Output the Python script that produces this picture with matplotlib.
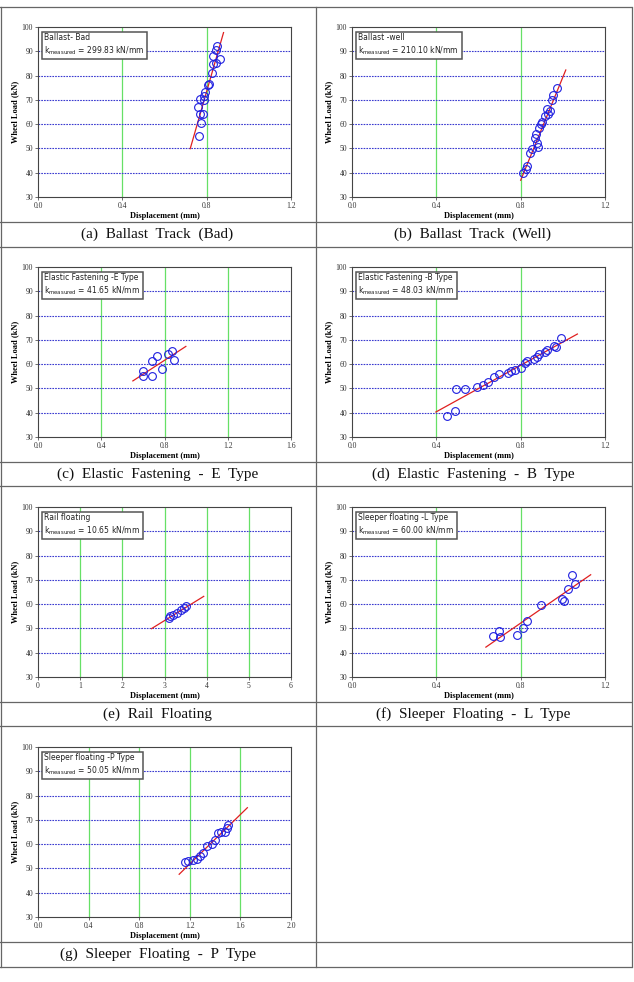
import matplotlib
matplotlib.use("Agg")
import matplotlib.pyplot as plt
from matplotlib.lines import Line2D

plt.rcParams['mathtext.default'] = 'regular'

W, H = 634, 982

# ---- data ----
a_x = [0.764, 0.774, 0.768, 0.782, 0.761, 0.769, 0.785, 0.788, 0.792, 0.804, 0.812,
       0.824, 0.832, 0.829, 0.864, 0.845, 0.851, 0.842]
a_y = [55.0, 60.6, 64.3, 64.3, 67.1, 70.2, 69.8, 71.6, 73.2, 76.0, 76.5,
       81.1, 84.9, 87.9, 87.0, 90.7, 92.0, 85.0]
a_fit_x = [0.722, 0.880]
a_fit_y = [49.9, 97.7]

b_x = [0.813, 0.829, 0.824, 0.842, 0.853, 0.884, 0.879, 0.869, 0.874, 0.889, 0.896,
       0.902, 0.916, 0.924, 0.940, 0.947, 0.955, 0.971, 0.932]
b_y = [39.7, 42.8, 41.7, 48.3, 49.9, 50.7, 52.4, 54.4, 55.8, 58.3, 59.9,
       61.0, 63.4, 66.1, 65.4, 69.8, 71.9, 75.0, 64.0]
b_fit_x = [0.800, 1.014]
b_fit_y = [36.9, 82.3]

c_x = [0.667, 0.667, 0.720, 0.720, 0.752, 0.787, 0.821, 0.846, 0.861]
c_y = [55.0, 57.2, 55.0, 61.2, 63.2, 58.1, 64.3, 65.4, 61.8]
c_fit_x = [0.600, 0.935]
c_fit_y = [53.1, 67.3]

d_x = [0.450, 0.490, 0.494, 0.534, 0.592, 0.619, 0.643, 0.674, 0.695, 0.742, 0.755,
       0.774, 0.801, 0.821, 0.832, 0.861, 0.876, 0.889, 0.916, 0.927, 0.958, 0.968, 0.990]
d_y = [38.5, 40.9, 49.6, 49.8, 50.5, 51.5, 52.8, 54.9, 56.0, 56.3, 57.1,
       57.6, 58.3, 60.5, 61.2, 62.1, 63.1, 64.2, 65.1, 65.8, 67.3, 66.9, 70.7]
d_fit_x = [0.398, 1.069]
d_fit_y = [40.3, 72.4]

e_x = [3.11, 3.21, 3.30, 3.40, 3.47, 3.51, 3.14]
e_y = [54.3, 55.4, 56.4, 57.4, 58.5, 59.1, 55.0]
e_fit_x = [2.69, 3.93]
e_fit_y = [49.9, 63.2]

f_x = [0.671, 0.698, 0.700, 0.782, 0.813, 0.832, 0.895, 0.995, 1.006, 1.023, 1.042, 1.058]
f_y = [47.0, 49.0, 46.4, 47.5, 50.0, 53.2, 59.7, 62.2, 61.4, 66.2, 71.8, 68.3]
f_fit_x = [0.635, 1.132]
f_fit_y = [42.3, 72.1]

g_x = [1.163, 1.189, 1.229, 1.255, 1.282, 1.308, 1.339, 1.374, 1.400, 1.426, 1.445,
       1.479, 1.492, 1.505]
g_y = [52.6, 52.9, 53.3, 54.0, 55.0, 56.4, 59.1, 59.9, 61.9, 64.7, 65.1,
       65.1, 66.5, 67.9]
g_fit_x = [1.116, 1.655]
g_fit_y = [47.6, 75.0]

names = ["Ballast- Bad", "Ballast -well", "Elastic Fastening -E Type",
         "Elastic Fastening -B Type", "Rail floating", "Sleeper floating -L Type",
         "Sleeper floating -P Type"]
k_values = ["299.83", "210.10", "41.65", "48.03", "10.65", "60.00", "50.05"]
captions = ["(a)  Ballast  Track  (Bad)", "(b)  Ballast  Track  (Well)",
            "(c)  Elastic  Fastening  -  E  Type", "(d)  Elastic  Fastening  -  B  Type",
            "(e)  Rail  Floating", "(f)  Sleeper  Floating  -  L  Type",
            "(g)  Sleeper  Floating  -  P  Type"]
x_ticks = [[0.0, 0.4, 0.8, 1.2], [0.0, 0.4, 0.8, 1.2], [0.0, 0.4, 0.8, 1.2, 1.6],
           [0.0, 0.4, 0.8, 1.2], [0, 1, 2, 3, 4, 5, 6], [0.0, 0.4, 0.8, 1.2],
           [0.0, 0.4, 0.8, 1.2, 1.6, 2.0]]
y_ticks = [30, 40, 50, 60, 70, 80, 90, 100]

xs = [a_x, b_x, c_x, d_x, e_x, f_x, g_x]
ys = [a_y, b_y, c_y, d_y, e_y, f_y, g_y]
fxs = [a_fit_x, b_fit_x, c_fit_x, d_fit_x, e_fit_x, f_fit_x, g_fit_x]
fys = [a_fit_y, b_fit_y, c_fit_y, d_fit_y, e_fit_y, f_fit_y, g_fit_y]

# ---- layout (pixels) ----
rows_top = [7, 247, 486, 726]
rows_mid = [222, 462, 702, 942]
rows_bot = [247, 486, 726, 967]
col_x = [0, 315, 631]
ax_left = [38, 352]
ax_w, ax_h = 253, 170

fig = plt.figure(figsize=(W / 100, H / 100), dpi=100)
serif = 'Liberation Serif'

for i in range(7):
    r, c = divmod(i, 2)
    bottom = rows_mid[r] - 25
    ax = fig.add_axes([ax_left[c] / W, 1 - bottom / H, ax_w / W, ax_h / H])
    xt = x_ticks[i]
    ax.set_xlim(xt[0], xt[-1])
    ax.set_ylim(30, 100)
    for v in xt[1:-1]:
        ax.axvline(v, color='#66e066', lw=0.9, zorder=1)
    for v in y_ticks[1:-1]:
        ax.axhline(v, color='#3a3ad0', lw=0.8, ls=(0, (1.5, 1)), zorder=1)
    ax.plot(fxs[i], fys[i], color='#e02020', lw=0.9, zorder=2)
    ax.plot(xs[i], ys[i], 'o', mfc='none', mec='#1f1fe0', ms=5.6, mew=0.8, zorder=3)
    ax.set_xticks(xt)
    if i == 4:
        ax.set_xticklabels([str(v) for v in xt])
    else:
        ax.set_xticklabels(['%.1f' % v for v in xt])
    ax.set_yticks(y_ticks)
    ax.set_yticklabels([str(v) for v in y_ticks])
    ax.tick_params(direction='out', length=2, width=0.6, labelsize=5.5,
                   color='#555555', labelcolor='#333333', pad=1.5)
    for lab in ax.get_xticklabels() + ax.get_yticklabels():
        lab.set_family(serif)
    for s in ax.spines.values():
        s.set_color('#444444')
        s.set_linewidth(0.8)
    ax.set_xlabel('Displacement (mm)', fontsize=6, family=serif, weight='bold', labelpad=1.5)
    ax.set_ylabel('Wheel Load (kN)', fontsize=6, family=serif, weight='bold', labelpad=2)
    ax.text(0.025, 0.965, names[i] + '\n' + 'k$_{measured}$ = ' + k_values[i] + ' kN/mm',
            transform=ax.transAxes, fontsize=5.5, family='DejaVu Sans', va='top', ha='left',
            linespacing=1.25, color='#222222', zorder=5,
            bbox=dict(boxstyle='square,pad=0.35', fc='white', ec='#555555', lw=1.1))
    cx = (col_x[c] + col_x[c + 1]) / 2
    cy = (rows_mid[r] + rows_bot[r]) / 2
    fig.text(cx / W, 1 - cy / H, captions[i], ha='center', va='center',
             fontsize=11, family=serif, color='#111111')

# table lines
lc = '#666666'
for r in range(4):
    for yy in (rows_top[r], rows_mid[r]):
        fig.add_artist(Line2D([0, col_x[2] / W], [1 - yy / H, 1 - yy / H], color=lc, lw=0.9))
fig.add_artist(Line2D([0, col_x[2] / W], [1 - rows_bot[3] / H, 1 - rows_bot[3] / H], color=lc, lw=0.9))
for xx in col_x:
    fig.add_artist(Line2D([xx / W + 0.0008, xx / W + 0.0008], [1 - rows_top[0] / H, 1 - rows_bot[3] / H],
                          color=lc, lw=0.9))

fig.savefig('out.png', dpi=100)
